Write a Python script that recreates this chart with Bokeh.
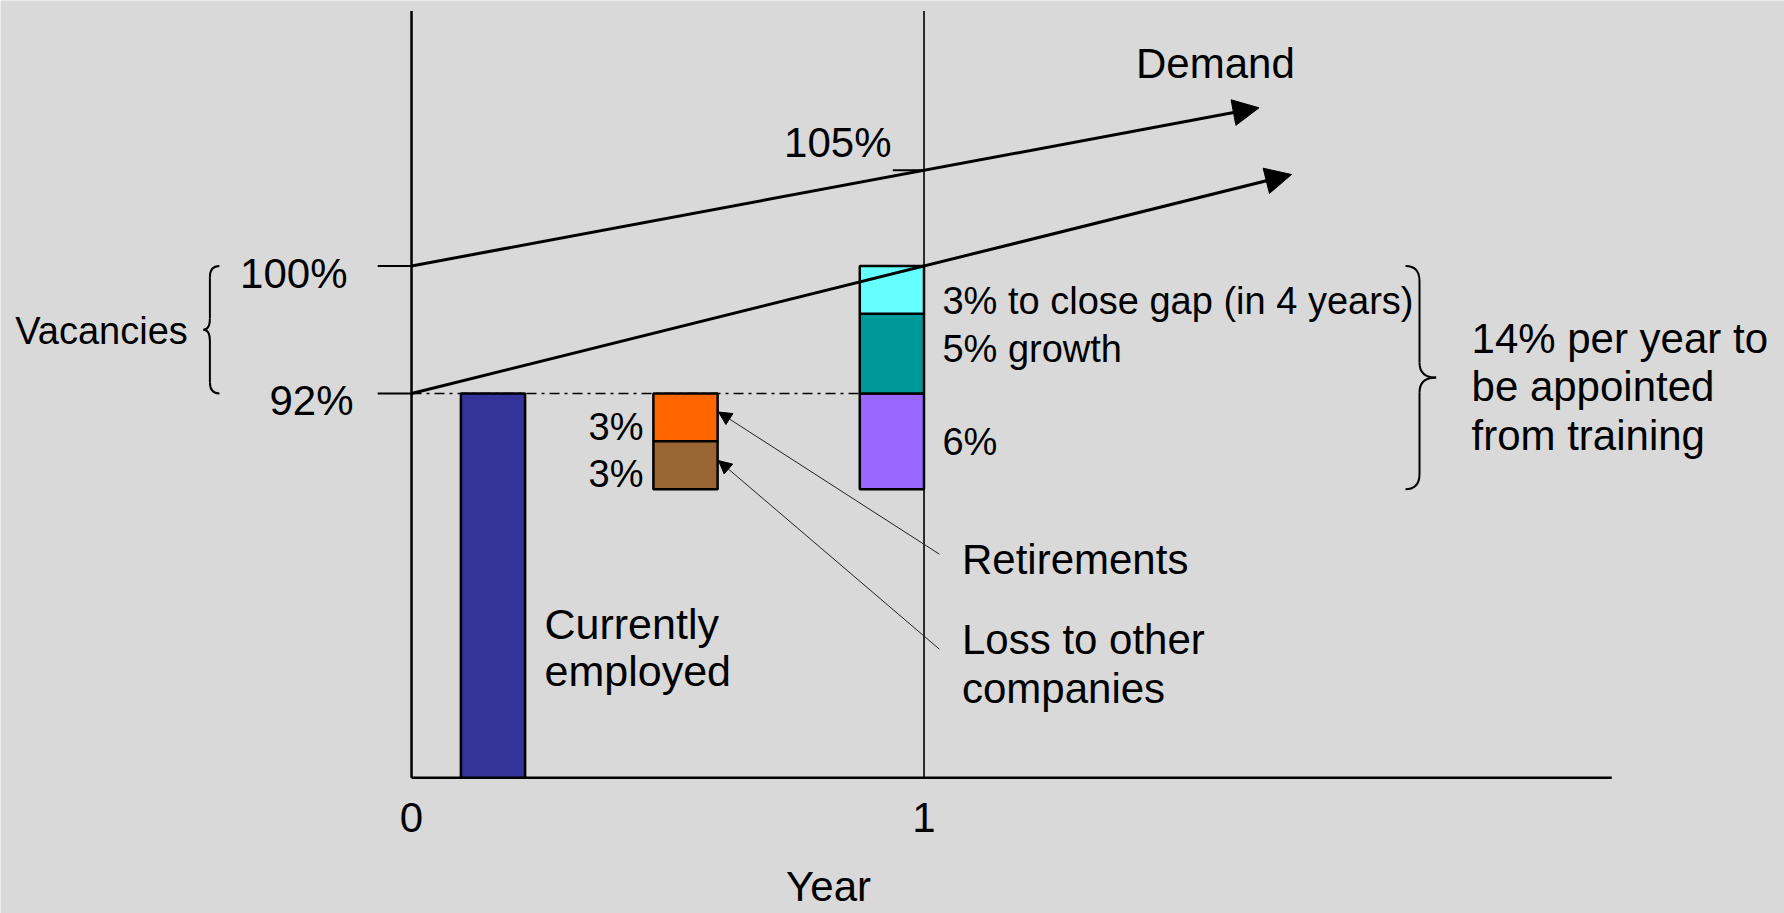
from bokeh.plotting import figure
from bokeh.models import Range1d, Arrow, NormalHead
from bokeh.embed import file_html
from bokeh.resources import INLINE
from bokeh.core.properties import value

# ---------------- data ----------------
year_ticks = [0, 1]
year_tick_labels = ["0", "1"]
pct_ticks = [100, 92]
pct_tick_labels = ["100%", "92%"]
employed_pct = 92                       # currently employed
loss_values = [3, 3]                    # retirements (top), loss to other companies
loss_value_labels = ["3%", "3%"]
loss_names = ["Retirements", "Loss to other\ncompanies"]
new_values = [6, 5, 3]                  # appointments at year 1, bottom to top
new_labels = ["6%", "5% growth", "3% to close gap (in 4 years)"]
new_colors = ["#9966FF", "#009999", "#66FFFF"]
loss_colors = ["#FF6600", "#996633"]
demand_years = [0, 1]
demand_pct = [100, 106]                 # upper line (as drawn), labelled 105%
demand_label = "105%"
supply_years = [0, 1]
supply_pct = [92, 100]
training_label = "14% per year to\nbe appointed\nfrom training"

# ---------------- layout / style ----------------
BG = "#D9D9D9"
FONT = value("Liberation Sans")
W, H = 1784, 913
X0, X1 = -0.8020, 2.6790
Y0, Y1 = 59.378, 116.655
BASE = 67.89           # where the year axis sits
BAR_W = 0.1253
EMP_X, LOSS_X, NEW_X = 0.159, 0.5346, 0.9373
XAXIS_END = 2.342

p = figure(width=W, height=H, x_range=Range1d(X0, X1), y_range=Range1d(Y0, Y1),
           output_backend="svg", toolbar_location=None, min_border=0,
           x_axis_location=None, y_axis_location=None,
           background_fill_color=BG, border_fill_color=BG, outline_line_color=None)
p.grid.visible = False

# axes drawn as lines
p.segment(x0=[0], y0=[BASE], x1=[0], y1=[116.0], line_color="black", line_width=2.5)
p.segment(x0=[0], y0=[BASE], x1=[XAXIS_END], y1=[BASE], line_color="black", line_width=2.5)
p.segment(x0=[1], y0=[BASE], x1=[1], y1=[116.0], line_color="black", line_width=1.6)
# percentage ticks
p.segment(x0=[-0.066] * len(pct_ticks), y0=pct_ticks, x1=[0] * len(pct_ticks), y1=pct_ticks,
          line_color="black", line_width=2)
p.segment(x0=[0.939], y0=[demand_pct[1]], x1=[1], y1=[demand_pct[1]], line_color="black", line_width=2)

# dash-dot line at the employed level
p.line(x=[0, NEW_X - BAR_W / 2], y=[employed_pct, employed_pct], line_color="black",
       line_width=1.6, line_dash="10 5 3 5")

# bars
p.vbar(x=[EMP_X], width=BAR_W, bottom=[BASE], top=[employed_pct], fill_color="#333399",
       line_color="black", line_width=2.5)
tops, bots = [], []
cur = employed_pct
for v in loss_values:
    tops.append(cur)
    bots.append(cur - v)
    cur -= v
p.vbar(x=[LOSS_X] * len(loss_values), width=BAR_W, bottom=bots, top=tops, fill_color=loss_colors,
       line_color="black", line_width=2.5)
ntops, nbots = [], []
for v in new_values:
    nbots.append(cur)
    ntops.append(cur + v)
    cur += v
p.vbar(x=[NEW_X] * len(new_values), width=BAR_W, bottom=nbots, top=ntops, fill_color=new_colors,
       line_color="black", line_width=2.5)

# demand / supply arrows
def extrap(xs, ys, x):
    return ys[0] + (ys[1] - ys[0]) * (x - xs[0]) / (xs[1] - xs[0])

for xs, ys, xtip in [(demand_years, demand_pct, 1.6537), (supply_years, supply_pct, 1.7171)]:
    p.add_layout(Arrow(end=NormalHead(size=26, fill_color="black", line_color="black"),
                       x_start=xs[0], y_start=ys[0], x_end=xtip, y_end=extrap(xs, ys, xtip),
                       line_color="black", line_width=3))

# pointer arrows from labels to the loss boxes
for ys, ye in [(81.92, 90.84), (75.96, 87.79)]:
    p.add_layout(Arrow(end=NormalHead(size=13, fill_color="black", line_color="black"),
                       x_start=1.030, y_start=ys, x_end=0.599, y_end=ye,
                       line_color="#222222", line_width=1))

# braces
def brace(hook, stem, tip, top, bot, r):
    mid = (top + bot) / 2
    q = dict(x0=[hook, stem, tip, stem], y0=[top, mid + r, mid, bot + r],
             x1=[stem, tip, stem, hook], y1=[top - r, mid, mid - r, bot],
             cx=[stem, stem, stem, stem], cy=[top, mid, mid, bot])
    p.quadratic(line_color="black", line_width=2, **q)
    p.segment(x0=[stem, stem], y0=[top - r, mid - r], x1=[stem, stem], y1=[mid + r, bot + r],
              line_color="black", line_width=2)

brace(-0.3748, -0.3934, -0.4061, pct_ticks[0], pct_ticks[1], 0.7)
brace(1.9395, 1.9668, 1.9992, supply_pct[1], employed_pct - sum(loss_values), 0.95)

def txt(x, y, s, size, align="left"):
    p.text(x=[x], y=[y], text=[s], text_font=FONT, text_font_size=size,
           text_align=align, text_baseline="middle", text_color="black")

BIG, SMALL = "42px", "38px"
# axis labels
for t, lab in zip(year_ticks, year_tick_labels):
    txt(t, 65.40, lab, BIG, "center")
txt(0.8137, 61.05, "Year", BIG, "center")
txt(-0.1249, 99.53, pct_tick_labels[0], BIG, "right")
txt(-0.1132, 91.53, pct_tick_labels[1], BIG, "right")
txt(0.9366, 107.75, demand_label, BIG, "right")
txt(1.4137, 112.73, "Demand", BIG)
txt(-0.7731, 95.95, "Vacancies", SMALL)

# year-1 segment labels
for lab, y in zip(new_labels, [88.96, 94.82, 97.83]):
    txt(1.036, y, lab, SMALL)
for lab, y in zip(loss_value_labels, [89.89, 86.96]):
    txt(0.4527, y, lab, SMALL, "right")

# multi-line labels
def block(x, y, s, dy, size=BIG):
    for i, line in enumerate(s.split("\n")):
        txt(x, y - i * dy, line, size)

block(1.0741, 81.60, loss_names[0], 3.07)
block(1.0741, 76.54, loss_names[1], 3.07)
block(0.2595, 77.54, "Currently\nemployed", 2.98, "43px")
block(2.0683, 95.45, training_label, 3.03)

open("out.html", "w").write(file_html(p, INLINE))
